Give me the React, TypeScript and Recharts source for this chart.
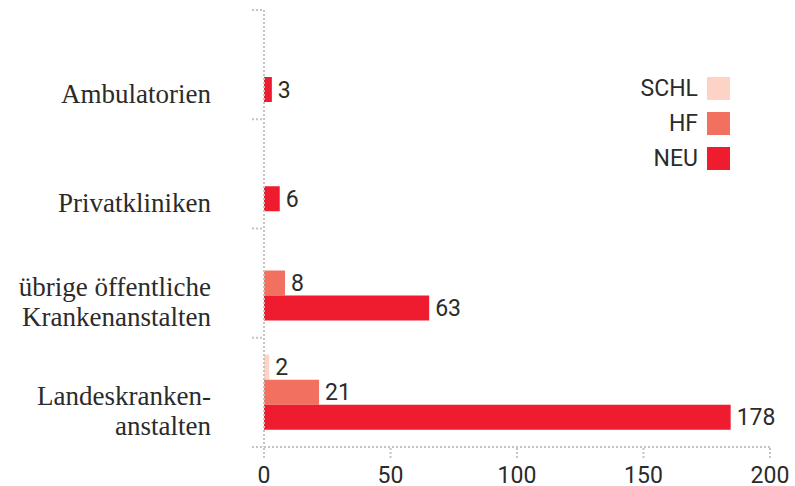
import { Bar, BarChart, LabelList, Legend, XAxis, YAxis } from "recharts";

const categories = [
  "Ambulatorien",
  "Privatkliniken",
  "übrige öffentliche\nKrankenanstalten",
  "Landeskranken-\nanstalten",
];
const schlValues = [null, null, null, 2];
const hfValues = [null, null, 8, 21];
const neuValues = [3, 6, 63, 178];
const xTicks = [0, 50, 100, 150, 200];

const series = [
  { key: "SCHL", color: "#fdd3c6" },
  { key: "HF", color: "#f2705f" },
  { key: "NEU", color: "#ee1c2e" },
];

const data = categories.map((category, i) => ({
  category,
  SCHL: schlValues[i],
  HF: hfValues[i],
  NEU: neuValues[i],
}));

const SANS = "Roboto, 'Liberation Sans', Arial, sans-serif";
const SERIF = "'Liberation Serif', 'Times New Roman', serif";
const TEXT = "#2b2b2b";
const DOT = { stroke: "#c4c4c4", strokeWidth: 2, strokeDasharray: "2 2" };

function CategoryTick(props: any) {
  const { x, y, payload, index, visibleTicksCount } = props;
  const lines = String(payload.value).split("\n");
  const half = payload.offset ?? 54;
  const first = y + 38 - (lines.length - 1) * 25;
  const isLast = index === (visibleTicksCount ?? categories.length) - 1;
  return (
    <g>
      <line x1={x - 12} x2={x} y1={y - half} y2={y - half} {...DOT} />
      {isLast && (
        <line x1={x - 12} x2={x} y1={y + half} y2={y + half} {...DOT} />
      )}
      <text
        x={x - 53}
        y={first}
        textAnchor="end"
        fontFamily={SERIF}
        fontSize={27}
        fill={TEXT}
      >
        {lines.map((line, i) => (
          <tspan key={i} x={x - 53} dy={i === 0 ? 0 : 30}>
            {line}
          </tspan>
        ))}
      </text>
    </g>
  );
}

function LegendBox() {
  return (
    <div
      style={{
        display: "flex",
        flexDirection: "column",
        alignItems: "flex-end",
        gap: 12,
      }}
    >
      {series.map((s) => (
        <div
          key={s.key}
          style={{ display: "flex", alignItems: "center", height: 23 }}
        >
          <span
            style={{
              fontFamily: SANS,
              fontSize: 23,
              color: TEXT,
              marginRight: 9,
              lineHeight: "23px",
            }}
          >
            {s.key}
          </span>
          <span
            style={{
              display: "inline-block",
              width: 23,
              height: 23,
              background: s.color,
            }}
          />
        </div>
      ))}
    </div>
  );
}

export default function App() {
  return (
    <div style={{ position: "absolute", left: 0, top: 0 }}>
      <BarChart
        width={795}
        height={486}
        data={data}
        layout="vertical"
        margin={{ top: 10, right: 25, bottom: 0, left: 0 }}
        barSize={25}
        barGap={0}
      >
        <XAxis
          xAxisId="ticks"
          type="number"
          domain={[0, 200]}
          ticks={xTicks}
          allowDataOverflow
          height={39}
          tickSize={11}
          tickMargin={9}
          axisLine={DOT}
          tickLine={DOT}
          tick={{ fontFamily: SANS, fontSize: 23, fill: TEXT }}
        />
        {/* bars in the original are drawn on a slightly stretched scale */}
        <XAxis
          xAxisId="bars"
          type="number"
          orientation="top"
          height={0}
          domain={[0, 193]}
          hide
        />
        <YAxis
          type="category"
          dataKey="category"
          width={264}
          interval={0}
          tickSize={0}
          tickMargin={0}
          tickLine={false}
          axisLine={DOT}
          tick={<CategoryTick />}
        />
        <Legend
          layout="horizontal"
          verticalAlign="middle"
          content={<LegendBox />}
          wrapperStyle={{ top: 77, left: 530, width: 200 }}
        />
        {series.map((s) => (
          <Bar
            key={s.key}
            dataKey={s.key}
            xAxisId="bars"
            fill={s.color}
            isAnimationActive={false}
          >
            <LabelList
              dataKey={s.key}
              position="right"
              offset={6}
              fill={TEXT}
              fontFamily={SANS}
              fontSize={23}
            />
          </Bar>
        ))}
      </BarChart>
    </div>
  );
}
